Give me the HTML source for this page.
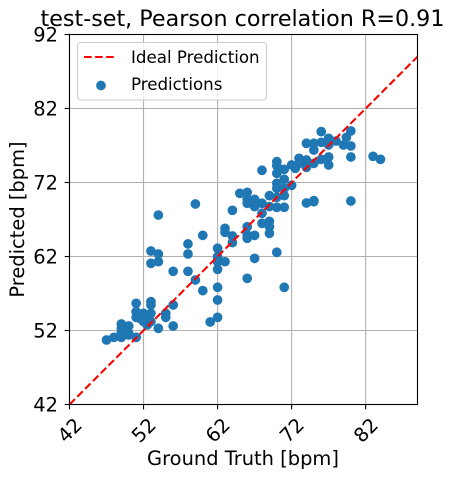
<!DOCTYPE html>
<html>
<head>
<meta charset="utf-8">
<style>
html,body{margin:0;padding:0;background:#fff;width:455px;height:479px;overflow:hidden}
svg{display:block}
text{font-family:"DejaVu Sans","Liberation Sans",sans-serif;fill:#000}
</style>
</head>
<body>
<svg id="chart" xmlns="http://www.w3.org/2000/svg" width="455" height="479" viewBox="0 0 455 479">
  <defs><clipPath id="plot-clip"><rect x="69.5" y="34.5" width="348" height="370"/></clipPath></defs>
  <g id="grid"></g>
  <g id="points" clip-path="url(#plot-clip)"></g>
  <line id="ideal" clip-path="url(#plot-clip)" stroke="#ff0000" stroke-width="2.08" stroke-dasharray="7.7 3.33"/>
  <rect x="69.5" y="34.5" width="348" height="370" fill="none" stroke="#000" stroke-width="1.1"/>
  <g id="ticks"></g>
  <text x="242.5" y="26" font-size="22.22" text-anchor="middle">test-set, Pearson correlation R=0.91</text>
  <text x="243" y="465" font-size="19.44" text-anchor="middle">Ground Truth [bpm]</text>
  <text transform="translate(24,219.5) rotate(-90)" font-size="19.44" text-anchor="middle">Predicted [bpm]</text>
  <g>
    <rect x="77.5" y="42.5" width="189" height="57.5" rx="3" fill="#fff" fill-opacity="0.8" stroke="#cccccc" stroke-width="1.1"/>
    <line x1="84" y1="57" x2="114" y2="57" stroke="#ff0000" stroke-width="2.08" stroke-dasharray="7.7 3.33"/>
    <text x="131" y="63" font-size="16.67">Ideal Prediction</text>
    <circle cx="101" cy="85.5" r="4.86" fill="#1f77b4"/>
    <text x="131" y="90" font-size="16.67">Predictions</text>
  </g>
</svg>
<script>
const xTicks = [42, 52, 62, 72, 82];
const yTicks = [42, 52, 62, 72, 82, 92];
const xDomain = [42, 89];
const yDomain = [42, 92];
const idealLine = [42, 89];
const groundTruth = [76,80,79.4,74,75,76,77,77,78,79,80,75,80,83,84,77,77,76,75,74,74,73,73,72,72.5,71,70,70,70,68,71,70,70,72,71,71,70,69,65,66,66,66,67,67,68,69,70,71,64,68,69,68,69,69,66,66,66,67,64,64,63,63,60,62,62,62,63,62,67,70,66,71,62,60,62,74,75,80,75,53,54,56,58,59,62,61,56,56,55,55,54,53,53,51,51,51,52,53,52,53,52,51.5,52.5,51,50,50,49,49,49,49,48,47,50,54,53,54,58,58,59];
const predicted = [78.87,78.96,78.1,77.3,77.3,77.43,77.97,77.07,77.6,77.07,76.94,76.39,75.45,75.54,75.13,75.45,74.37,75.13,74.59,75.04,74.05,75.27,74.59,74.37,73.92,73.78,74.82,74.28,73.24,73.65,72.43,71.89,71.21,71.62,71.21,70.22,70,70.22,70.54,70.67,69.73,69.19,69.73,68.74,69.19,68.74,68.65,68.65,68.24,67.84,66.75,66.48,66.03,65.13,66.03,64.91,64.46,64.86,64.77,63.87,65.81,65.27,64.86,63.11,61.98,61.3,61.3,60.27,61.75,62.57,59.05,57.84,57.84,57.39,56.12,69.23,69.55,69.5,69.4,61.08,61.3,60,60,58.83,53.78,53.15,55.45,52.61,54.32,53.78,52.3,55.9,55.45,55.67,54.55,53.78,54.32,54.32,53.2,53.2,53.78,53.65,52.75,51.08,52.61,51.62,52.88,52.3,51.08,51.71,51.08,50.72,51.4,67.6,62.74,62.34,63.7,62.34,69.1];

const NS = 'http://www.w3.org/2000/svg';
const plotLeft = 69.5, plotRight = 417.5, plotTop = 34.5, plotBottom = 404.5;
const xScale = v => plotLeft + (v - xDomain[0]) / (xDomain[1] - xDomain[0]) * (plotRight - plotLeft);
const yScale = v => plotBottom - (v - yDomain[0]) / (yDomain[1] - yDomain[0]) * (plotBottom - plotTop);
const grid = document.getElementById('grid');
const ticks = document.getElementById('ticks');
const pointsLayer = document.getElementById('points');

function makeLine(x1, y1, x2, y2, color) {
  const l = document.createElementNS(NS, 'line');
  l.setAttribute('x1', x1);
  l.setAttribute('y1', y1);
  l.setAttribute('x2', x2);
  l.setAttribute('y2', y2);
  l.setAttribute('stroke', color);
  l.setAttribute('stroke-width', '1.1');
  return l;
}

xTicks.forEach(v => {
  const x = xScale(v);
  const g = makeLine(x, plotTop, x, plotBottom, '#b0b0b0');
  
  
  grid.appendChild(g);
  const t = makeLine(x, plotBottom, x, plotBottom + 4.86, '#000');
  
  
  ticks.appendChild(t);
  const label = document.createElementNS(NS, 'text');
  
  
  label.setAttribute('font-size', '19.44');
  label.setAttribute('text-anchor', 'middle');
  label.setAttribute('transform', 'translate(' + x + ',430) rotate(-45) translate(0,7)');
  label.textContent = String(v);
  ticks.appendChild(label);
});

yTicks.forEach(v => {
  const y = yScale(v);
  const g = makeLine(plotLeft, y, plotRight, y, '#b0b0b0');
  
  
  grid.appendChild(g);
  const t = makeLine(plotLeft - 4.86, y, plotLeft, y, '#000');
  
  
  ticks.appendChild(t);
  const label = document.createElementNS(NS, 'text');
  
  
  label.setAttribute('font-size', '19.44');
  label.setAttribute('text-anchor', 'end');
  label.setAttribute('x', 58);
  label.setAttribute('y', y + 7);
  label.textContent = String(v);
  ticks.appendChild(label);
});

groundTruth.forEach((v, i) => {
  const c = document.createElementNS(NS, 'circle');
  
  
  c.setAttribute('cx', xScale(v));
  c.setAttribute('cy', yScale(predicted[i]));
  c.setAttribute('r', '4.86');
  c.setAttribute('fill', '#1f77b4');
  pointsLayer.appendChild(c);
});

const ideal = document.getElementById('ideal');
ideal.setAttribute('x1', xScale(idealLine[0]));
ideal.setAttribute('y1', yScale(idealLine[0]));
ideal.setAttribute('x2', xScale(idealLine[1]));
ideal.setAttribute('y2', yScale(idealLine[1]));
</script>
</body>
</html>
